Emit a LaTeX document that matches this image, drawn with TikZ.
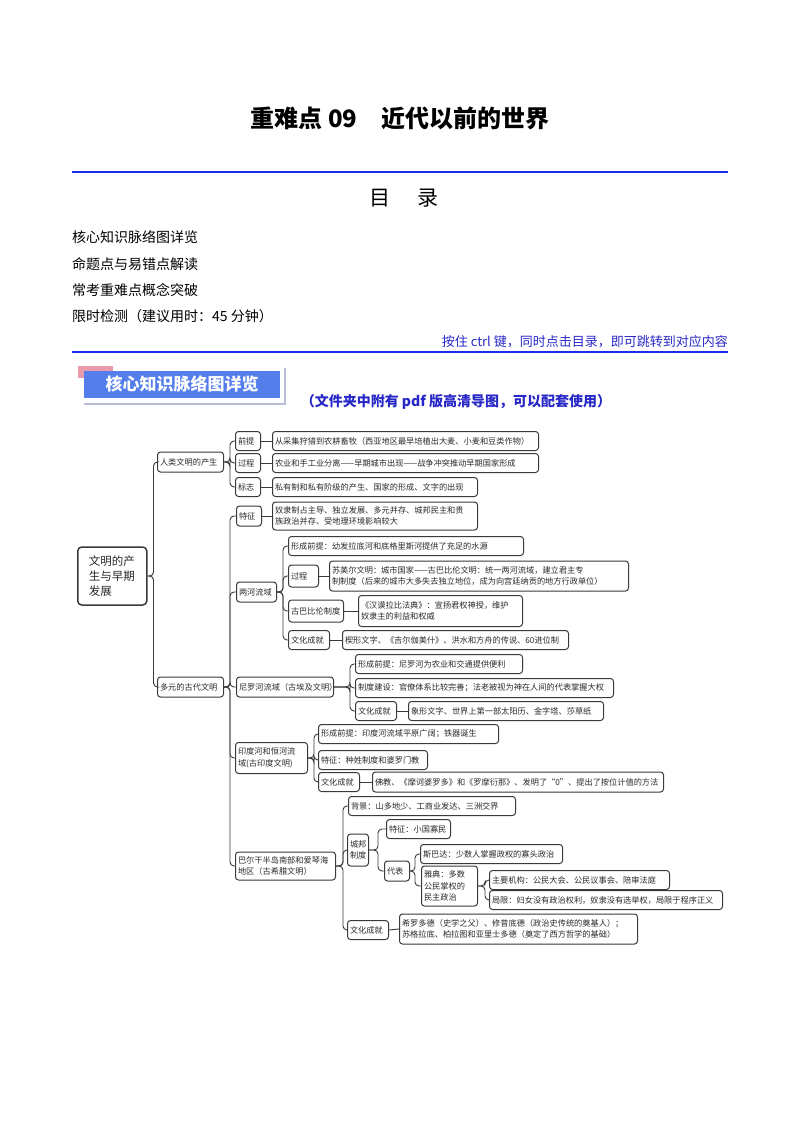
\documentclass[tikz,border=0pt]{standalone}
\usepackage{fontspec}
\setmainfont{Noto Sans CJK SC}
\definecolor{lc}{HTML}{3A3A3A}
\definecolor{tc}{HTML}{2A2A2A}
\definecolor{rb}{RGB}{25,45,235}
\definecolor{hb}{RGB}{84,126,236}
\definecolor{pk}{RGB}{232,155,172}
\definecolor{gl}{RGB}{185,190,212}
\definecolor{cb}{RGB}{40,40,200}
\newcommand\mapfont{\fontsize{8.2}{11.5}\selectfont}
\newcommand\mm[6]{\pgfmathsetmacro\mmtw{#4-5}\node[mm,text width=\mmtw pt,minimum height=#5pt] (#1) at (#2,#3) {#6};}
\newcommand\lk[3]{\draw[conn] (#1.east) -- ++(#3,0) |- (#2.west);}
\newcommand\st[2]{\draw[conn] (#1.east) -- (#2.west);}
\tikzset{
  mm/.style={draw=lc, line width=1pt, rounded corners=3pt, inner xsep=2.5pt, inner ysep=1.5pt, anchor=west, font=\mapfont, align=left, text=tc},
  conn/.style={draw=lc, line width=0.9pt, rounded corners=4pt},
  rule/.style={draw=rb, line width=2.5pt},
  toc/.style={anchor=west, font=\fontsize{14}{16}\selectfont, text=black, inner sep=0pt}
}
\begin{document}
\begin{tikzpicture}[x=1pt,y=-1pt]
\useasboundingbox (0,0) rectangle (800,1132);
\fill[white] (0,0) rectangle (800,1132);
% header
\node[font=\fontsize{24}{28}\selectfont\bfseries] (title) at (400,118) {重难点 09\hspace{1em}近代以前的世界};
\draw[rule] (72,172) -- (728,172);
\node[font=\fontsize{21}{24}\selectfont] (mulu) at (404,198) {目\hspace{28pt}录};
\node[toc] (t1) at (72,237) {核心知识脉络图详览};
\node[toc] (t2) at (72,264) {命题点与易错点解读};
\node[toc] (t3) at (72,290) {常考重难点概念突破};
\node[toc] (t4) at (72,316) {限时检测（建议用时：45 分钟）};
\node[anchor=east, text=cb, font=\fontsize{13}{15}\selectfont, inner sep=0pt] (ctrl) at (728,342) {按住 ctrl 键，同时点击目录，即可跳转到对应内容};
\draw[rule] (72,352) -- (728,352);
% section banner
\fill[pk] (78,366) rectangle (113,378);
\fill[hb] (84,371) rectangle (280,398);
\draw[gl, line width=1.5pt] (84,404) -- (285,404) -- (285,368);
\node[text=white, font=\fontsize{17}{20}\selectfont\bfseries] (sec) at (182,384) {核心知识脉络图详览};
\node[text=cb, font=\fontsize{14}{16}\selectfont\bfseries] (sub) at (456,402) {（文件夹中附有 pdf 版高清导图，可以配套使用）};
% mind map
\node[mm, font=\fontsize{11.5}{15}\selectfont, line width=1.5pt, rounded corners=4pt, text width=47pt, inner xsep=11pt, minimum height=58pt] (root) at (77,576) {文明的产\\生与早期\\发展};
\mm{n1}{157}{462}{66}{20}{人类文明的产生}
\mm{n2}{157}{687}{66}{20}{多元的古代文明}
\mm{a1}{235}{441}{25}{19}{前提}
\mm{a1l}{272}{441}{266}{19}{从采集狩猎到农耕畜牧（西亚地区最早培植出大麦、小麦和豆类作物）}
\mm{a2}{235}{463}{25}{19}{过程}
\mm{a2l}{272}{463}{266}{19}{农业和手工业分离——早期城市出现——战争冲突推动早期国家形成}
\mm{a3}{235}{487}{25}{19}{标志}
\mm{a3l}{272}{487}{205}{19}{私有制和私有阶级的产生、国家的形成、文字的出现}
\mm{b1}{236}{516}{25}{20}{特征}
\mm{b1l}{272}{516}{205}{28}{奴隶制占主导、独立发展、多元并存、城邦民主和贵\\族政治并存、受地理环境影响较大}
\mm{b2}{236}{592}{40}{20}{两河流域}
\mm{c1}{288}{546}{235}{19}{形成前提：幼发拉底河和底格里斯河提供了充足的水源}
\mm{c2}{288}{576}{30}{22}{过程}
\mm{c2l}{329}{576}{299}{30}{苏美尔文明：城市国家——古巴比伦文明：统一两河流域，建立君主专\\制制度（后来的城市大多失去独立地位，成为向宫廷纳贡的地方行政单位）}
\mm{c3}{288}{611}{55}{22}{古巴比伦制度}
\mm{c3l}{358}{611}{164}{31}{《汉谟拉比法典》：宣扬君权神授，维护\\奴隶主的利益和权威}
\mm{c4}{288}{640}{41}{19}{文化成就}
\mm{c4l}{342}{640}{226}{19}{楔形文字、《吉尔伽美什》、洪水和方舟的传说、60进位制}
\mm{b3}{236}{687}{97}{20}{尼罗河流域（古埃及文明）}
\mm{d1}{355}{664}{167}{19}{形成前提：尼罗河为农业和交通提供便利}
\mm{d2}{355}{688}{258}{19}{制度建设：官僚体系比较完善；法老被视为神在人间的代表掌握大权}
\mm{d3}{355}{711}{41}{19}{文化成就}
\mm{d3l}{408}{711}{195}{19}{象形文字、世界上第一部太阳历、金字塔、莎草纸}
\mm{b4}{235}{758}{72}{31}{印度河和恒河流\\域(古印度文明)}
\mm{e1}{318}{734}{180}{19}{形成前提：印度河流域平原广阔；铁器诞生}
\mm{e2}{318}{760}{109}{19}{特征：种姓制度和婆罗门教}
\mm{e3}{318}{782}{41}{19}{文化成就}
\mm{e3l}{372}{782}{291}{20}{佛教、《摩诃婆罗多》和《罗摩衍那》、发明了“0”、提出了按位计值的方法}
\mm{b5}{235}{866}{100}{28}{巴尔干半岛南部和爱琴海\\地区（古希腊文明）}
\mm{f1}{348}{806}{167}{19}{背景：山多地少、工商业发达、三洲交界}
\mm{f2}{347}{850}{21}{32}{城邦\\制度}
\mm{g1}{386}{829}{64}{19}{特征：小国寡民}
\mm{g2}{384}{871}{25}{20}{代表}
\mm{h1}{420}{854}{142}{19}{斯巴达：少数人掌握政权的寡头政治}
\mm{h2}{421}{886}{56}{40}{雅典：多数\\公民掌权的\\民主政治}
\mm{i1}{489}{880}{180}{19}{主要机构：公民大会、公民议事会、陪审法庭}
\mm{i2}{489}{900}{233}{19}{局限：妇女没有政治权利，奴隶没有选举权，局限于程序正义}
\mm{f3}{347}{930}{41}{19}{文化成就}
\mm{f3l}{399}{929}{238}{30}{希罗多德（史学之父）、修昔底德（政治史传统的奠基人）；\\苏格拉底、柏拉图和亚里士多德（奠定了西方哲学的基础）}
% connectors
\lk{root}{n1}{6}\lk{root}{n2}{6}
\lk{n1}{a1}{6}\lk{n1}{a2}{6}\lk{n1}{a3}{6}
\st{a1}{a1l}\st{a2}{a2l}\st{a3}{a3l}
\lk{n2}{b1}{6}\lk{n2}{b2}{6}\lk{n2}{b3}{6}\lk{n2}{b4}{6}\lk{n2}{b5}{6}
\st{b1}{b1l}
\lk{b2}{c1}{6}\lk{b2}{c2}{6}\lk{b2}{c3}{6}\lk{b2}{c4}{6}
\st{c2}{c2l}\st{c3}{c3l}\st{c4}{c4l}
\lk{b3}{d1}{16}\lk{b3}{d2}{16}\lk{b3}{d3}{16}
\st{d3}{d3l}
\lk{b4}{e1}{6}\lk{b4}{e2}{6}\lk{b4}{e3}{6}
\st{e3}{e3l}
\lk{b5}{f1}{7}\lk{b5}{f2}{7}\lk{b5}{f3}{7}
\st{f3}{f3l}
\lk{f2}{g1}{9}\lk{f2}{g2}{9}
\lk{g2}{h1}{5}\lk{g2}{h2}{5}
\lk{h2}{i1}{7}\lk{h2}{i2}{7}
\end{tikzpicture}
\end{document}
